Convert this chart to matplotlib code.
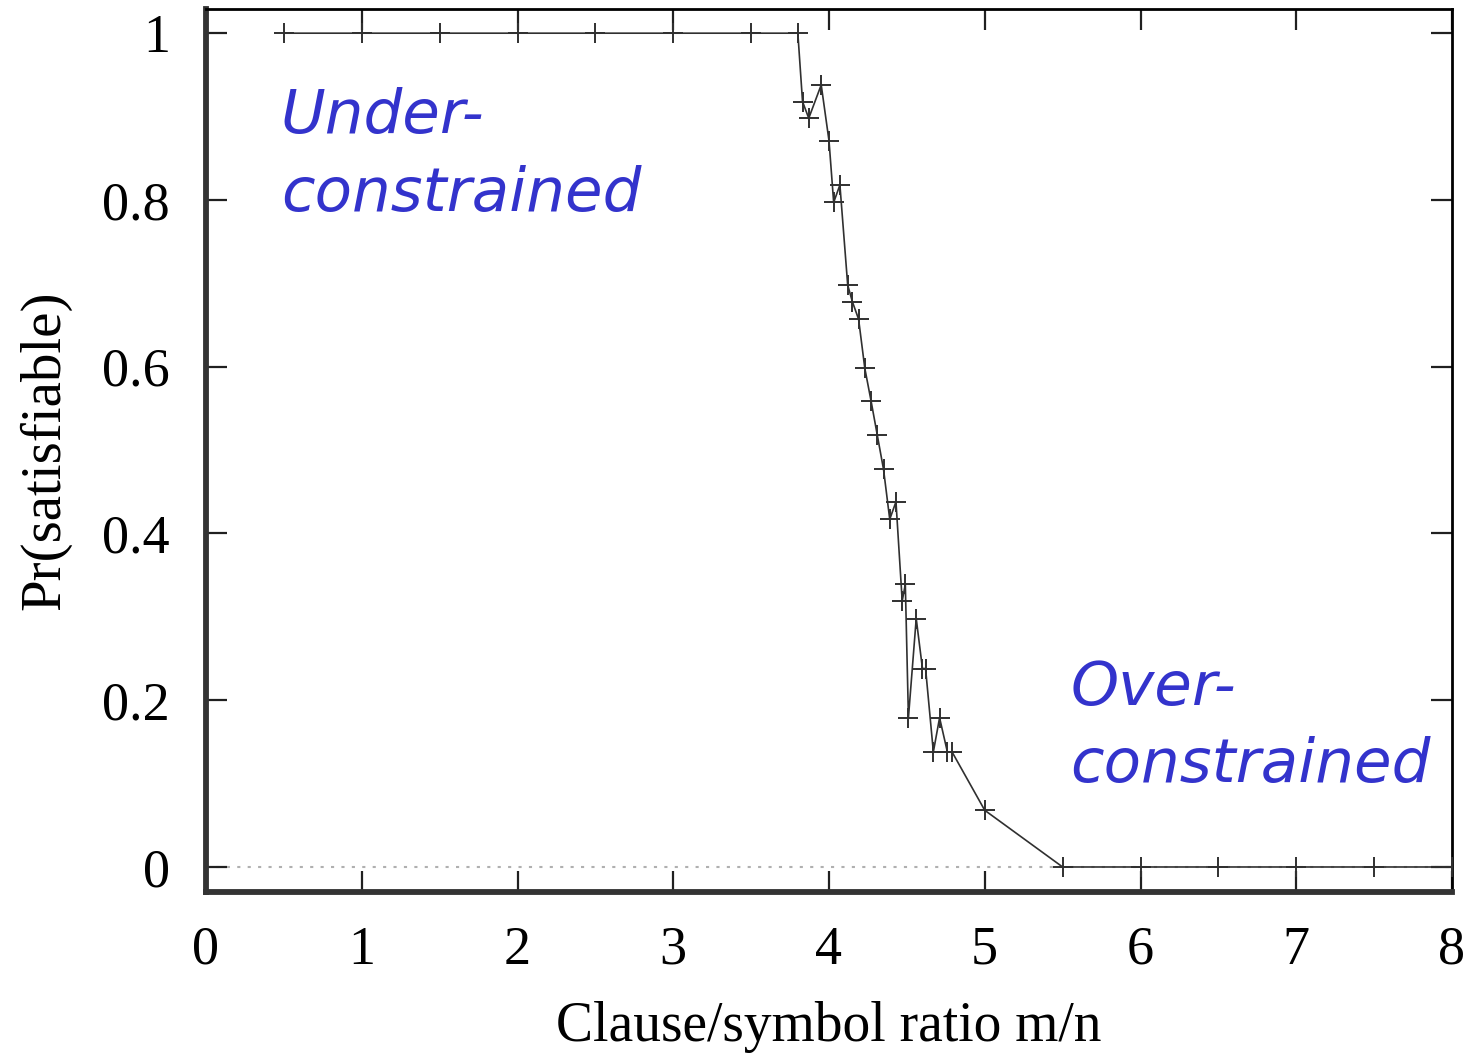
import matplotlib
matplotlib.use("Agg")
import matplotlib.pyplot as plt

# data
ratio = [0.5, 1.0, 1.5, 2.0, 2.5, 3.0, 3.5, 3.80, 3.83, 3.87, 3.95, 4.00, 4.03, 4.07,
         4.12, 4.15, 4.19, 4.23, 4.27, 4.31, 4.35, 4.39, 4.43, 4.47, 4.49, 4.51,
         4.56, 4.60, 4.62, 4.67, 4.71, 4.76, 4.79, 5.0, 5.5, 6.0, 6.5, 7.0, 7.5, 8.0]
prob_sat = [1.0, 1.0, 1.0, 1.0, 1.0, 1.0, 1.0, 1.0, 0.918, 0.898, 0.938, 0.871, 0.797, 0.818,
            0.698, 0.678, 0.657, 0.598, 0.559, 0.518, 0.477, 0.417, 0.438, 0.319, 0.339, 0.179,
            0.298, 0.238, 0.238, 0.138, 0.179, 0.138, 0.138, 0.068, 0.0, 0.0, 0.0, 0.0, 0.0, 0.0]
x_ticks = [0, 1, 2, 3, 4, 5, 6, 7, 8]
y_ticks = [0, 0.2, 0.4, 0.6, 0.8, 1]
y_tick_labels = ["0", "0.2", "0.4", "0.6", "0.8", "1"]
x_label = "Clause/symbol ratio m/n"
y_label = "Pr(satisfiable)"
note_under = "Under-\nconstrained"
note_over = "Over-\nconstrained"

serif = ["Liberation Serif", "DejaVu Serif"]

fig = plt.figure(figsize=(14.68, 10.60), dpi=100)
ax = fig.add_axes([206/1468, 168/1060, (1452-206)/1468, (892-9)/1060])

ax.axhline(0, color="#b0b0b0", lw=1.5, ls=(0, (1.5, 3.5)), zorder=1)
ax.plot(ratio, prob_sat, color="#303030", lw=1.2, marker="+", ms=15, mew=1.4,
        mec="#303030", zorder=3)

ax.set_xlim(0, 8)
ax.set_ylim(-0.030, 1.029)
ax.set_xticks(x_ticks)
ax.set_xticklabels([str(t) for t in x_ticks], fontfamily=serif, fontsize=39)
ax.set_yticks(y_ticks)
ax.set_yticklabels(y_tick_labels, fontfamily=serif, fontsize=39)
ax.tick_params(direction="in", length=15, width=1.6, color="#202020",
               top=True, right=True)
ax.tick_params(axis="x", pad=24)
ax.tick_params(axis="y", pad=26)

for side in ["left", "bottom"]:
    ax.spines[side].set_linewidth(4.2)
    ax.spines[side].set_color("#333333")
for side in ["top", "right"]:
    ax.spines[side].set_linewidth(2.0)
    ax.spines[side].set_color("#000000")

ax.set_xlabel(x_label, fontfamily=serif, fontsize=40, labelpad=18)
ax.set_ylabel(y_label, fontfamily=serif, fontsize=41, labelpad=22)

ax.text(0.48, 0.935, note_under, color="#3333cc", fontsize=44, style="italic",
        family=["DejaVu Sans"], va="top", ha="left", linespacing=1.4)
ax.text(5.55, 0.25, note_over, color="#3333cc", fontsize=44, style="italic",
        family=["DejaVu Sans"], va="top", ha="left", linespacing=1.4)

fig.savefig("out.png", dpi=100)
